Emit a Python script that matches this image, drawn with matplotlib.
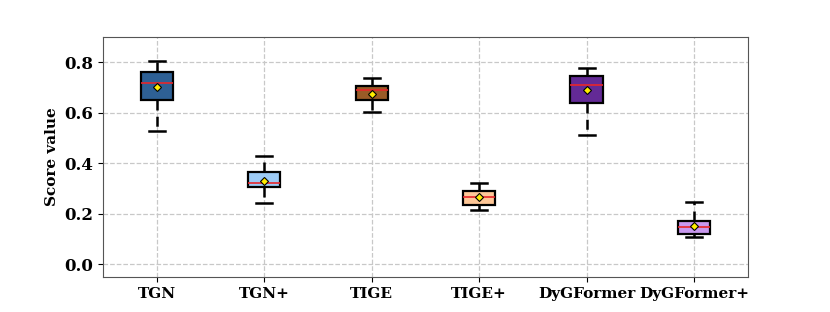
import matplotlib
matplotlib.use('Agg')
import matplotlib.pyplot as plt

# values
models = ['TGN', 'TGN+', 'TIGE', 'TIGE+', 'DyGFormer', 'DyGFormer+']
whislo = [0.528, 0.244, 0.602, 0.217, 0.511, 0.108]
q1 = [0.652, 0.305, 0.651, 0.236, 0.640, 0.119]
medians = [0.717, 0.322, 0.689, 0.268, 0.710, 0.150]
means = [0.704, 0.331, 0.676, 0.267, 0.689, 0.154]
q3 = [0.763, 0.367, 0.706, 0.290, 0.747, 0.173]
whishi = [0.805, 0.430, 0.737, 0.322, 0.778, 0.247]
colors = ['#2e6095', '#9dcbf6', '#9a5b27', '#fec797', '#632a96', '#c898ef']

stats = []
for i, name in enumerate(models):
    stats.append({'label': name, 'whislo': whislo[i], 'q1': q1[i], 'med': medians[i],
                  'mean': means[i], 'q3': q3[i], 'whishi': whishi[i], 'fliers': []})

fig = plt.figure(figsize=(8.3, 3.12), dpi=100)
ax = fig.add_axes([0.124, 0.112, 0.777, 0.769])

bp = ax.bxp(stats, widths=0.3, showmeans=True, patch_artist=True,
            boxprops=dict(edgecolor='black', linewidth=1.6),
            medianprops=dict(color='#e8262a', linewidth=1.2),
            whiskerprops=dict(color='black', linewidth=1.8, linestyle=(0, (4, 2.5))),
            capprops=dict(color='black', linewidth=1.8),
            meanprops=dict(marker='D', markerfacecolor='#ffee00', markeredgecolor='black',
                           markersize=4.5, markeredgewidth=0.8))
for patch, c in zip(bp['boxes'], colors):
    patch.set_facecolor(c)

ax.set_xlim(0.5, 6.5)
ax.set_ylim(-0.05, 0.9)
ax.set_yticks([0.0, 0.2, 0.4, 0.6, 0.8])
ax.grid(True, linestyle='--', color='#c8c8c8', linewidth=0.9)
ax.set_axisbelow(True)

font = dict(family='DejaVu Serif', weight='bold', size=11)
ax.set_ylabel('Score value', fontdict=font)
ax.set_xticklabels(models, fontdict=font)
ax.set_yticklabels(['0.0', '0.2', '0.4', '0.6', '0.8'], fontdict=dict(font, size=12))
for s in ax.spines.values():
    s.set_color('#555555')

fig.savefig('out.png', dpi=100)
